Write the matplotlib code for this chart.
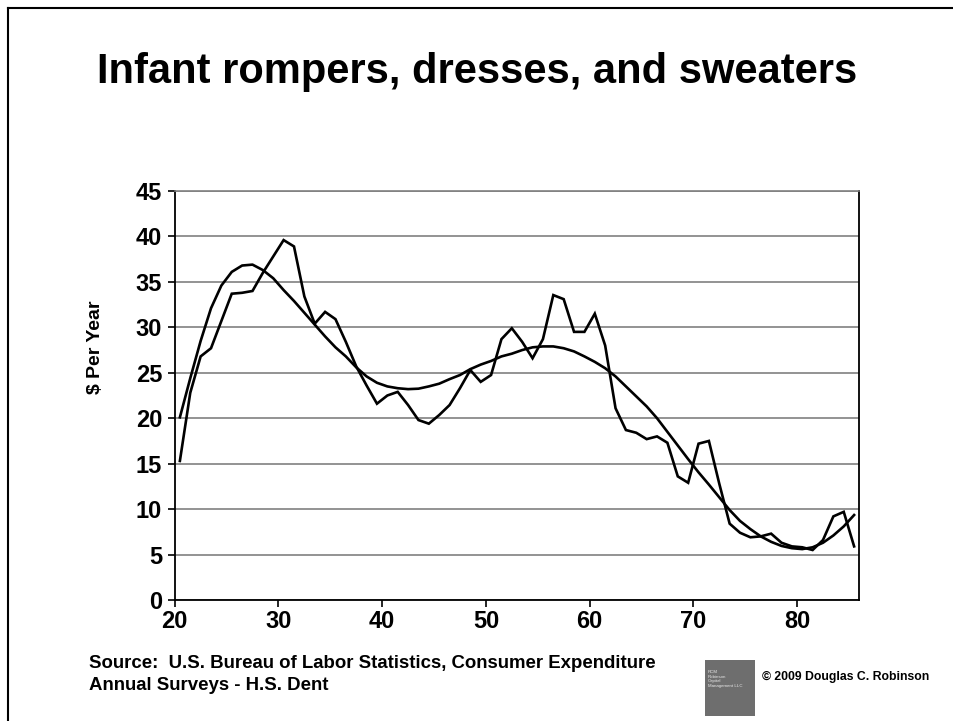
import matplotlib
matplotlib.use("Agg")
import matplotlib.pyplot as plt
from matplotlib.lines import Line2D
from matplotlib.patches import Rectangle
import numpy as np

plt.rcParams['font.family'] = ['Liberation Sans', 'DejaVu Sans']

ages = list(range(20, 86))
actual = [15.3, 22.8, 26.8, 27.7, 30.7, 33.7, 33.8, 34.0, 36.0, 37.8,
          39.6, 38.9, 33.4, 30.4, 31.7, 30.9, 28.4, 25.7, 23.6, 21.6,
          22.5, 22.9, 21.45, 19.8, 19.4, 20.35, 21.45, 23.3, 25.3, 24.0,
          24.75, 28.7, 29.9, 28.4, 26.6, 28.7, 33.55, 33.1, 29.5, 29.5,
          31.5, 28.0, 21.1, 18.7, 18.4, 17.7, 18.0, 17.3, 13.6, 12.9,
          17.2, 17.5, 12.8, 8.4, 7.4, 6.9, 7.0, 7.3, 6.3, 5.9,
          5.8, 5.5, 6.6, 9.2, 9.7, 5.9]
trend = [20.1, 24.4, 28.5, 32.1, 34.6, 36.1, 36.8, 36.9, 36.3, 35.4,
         34.1, 32.9, 31.6, 30.3, 29.0, 27.8, 26.8, 25.6, 24.6, 23.9,
         23.5, 23.3, 23.2, 23.25, 23.5, 23.8, 24.3, 24.75, 25.4, 25.9,
         26.3, 26.8, 27.1, 27.5, 27.8, 27.9, 27.9, 27.7, 27.35, 26.8,
         26.2, 25.5, 24.6, 23.5, 22.4, 21.3, 20.0, 18.5, 17.0, 15.5,
         14.05, 12.7, 11.3, 9.9, 8.7, 7.8, 7.0, 6.4, 5.95, 5.7,
         5.6, 5.8, 6.3, 7.1, 8.1, 9.35]
x_ticks = [20, 30, 40, 50, 60, 70, 80]
y_ticks = [0, 5, 10, 15, 20, 25, 30, 35, 40, 45]

W, H = 954, 721
fig = plt.figure(figsize=(W / 100, H / 100), dpi=100)
ax = fig.add_axes([174.7 / W, 1 - 600 / H, (859.3 - 174.7) / W, (600 - 191) / H])

xpos = np.array(ages) + 0.5
ax.plot(xpos, actual, color='black', lw=1.9, solid_joinstyle='miter', zorder=3)
ax.plot(xpos, trend, color='black', lw=1.9, zorder=3)

ax.set_xlim(20, 86)
ax.set_ylim(0, 45)
ax.set_yticks(y_ticks)
ax.set_xticks(x_ticks)
ax.set_xticklabels([str(v) for v in x_ticks])
ax.set_yticklabels([str(v) for v in y_ticks])
ax.yaxis.grid(True, color='#808080', lw=1.2)
ax.set_axisbelow(True)
ax.tick_params(axis='both', direction='out', length=5, width=1.2, color='black',
               labelsize=17)
ax.tick_params(axis='x', pad=2.5)
ax.tick_params(axis='y', pad=4)
for lbl in ax.get_xticklabels() + ax.get_yticklabels():
    lbl.set_fontweight('bold')
for s in ['left', 'bottom', 'right']:
    ax.spines[s].set_color('black')
    ax.spines[s].set_linewidth(1.3)
ax.spines['top'].set_color('#808080')
ax.spines['top'].set_linewidth(1.2)

fig.text(96 / W, 1 - 347 / H, '$ Per Year', rotation=90, ha='center', va='center',
         fontsize=14, fontweight='bold')

fig.text(477 / W, 1 - 72 / H, 'Infant rompers, dresses, and sweaters',
         ha='center', va='center', fontsize=30, fontweight='bold')

fig.text(89 / W, 1 - 663 / H, 'Source:  U.S. Bureau of Labor Statistics, Consumer Expenditure',
         ha='left', va='center', fontsize=13.4, fontweight='bold')
fig.text(89 / W, 1 - 685 / H, 'Annual Surveys - H.S. Dent',
         ha='left', va='center', fontsize=13.4, fontweight='bold')
fig.text(762 / W, 1 - 677 / H, '\u00a9 2009 Douglas C. Robinson',
         ha='left', va='center', fontsize=8.8, fontweight='bold')

# logo box
fig.add_artist(Rectangle((705 / W, 1 - 716 / H), 50 / W, 56 / H,
                         transform=fig.transFigure, facecolor='#6e6e6e',
                         edgecolor='none'))
fig.text(708 / W, 1 - 679 / H, 'RCM\nRobinson\nCapital\nManagement LLC',
         ha='left', va='center', fontsize=3.2, color='#e8e8e8', linespacing=1.3)

# page border
fig.add_artist(Line2D([8 / W, 1.0], [1 - 8 / H, 1 - 8 / H], transform=fig.transFigure,
                      color='black', lw=1.5))
fig.add_artist(Line2D([8 / W, 8 / W], [0, 1 - 8 / H], transform=fig.transFigure,
                      color='black', lw=1.5))

fig.savefig('out.png', dpi=100)
